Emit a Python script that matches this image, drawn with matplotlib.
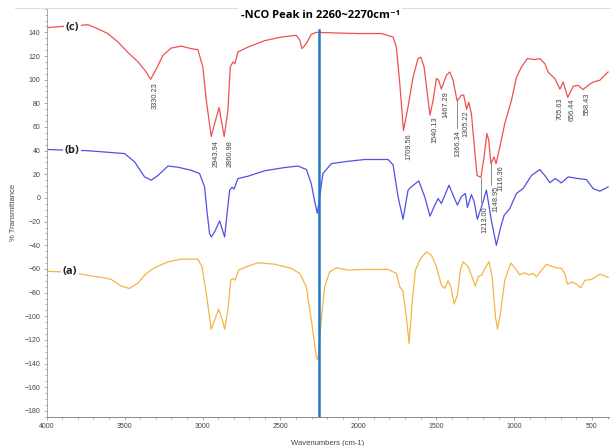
import matplotlib.pyplot as plt
from matplotlib.ticker import MultipleLocator
from matplotlib.lines import Line2D

# spectrum (c) - red
wn_c = [4000, 3900, 3779, 3736, 3672, 3608, 3544, 3479, 3414, 3362, 3333, 3297,
        3254, 3201, 3137, 3073, 3030, 2998, 2976, 2944, 2922, 2894, 2861, 2837,
        2822, 2805, 2792, 2773, 2708, 2601, 2494, 2398, 2377, 2362, 2334, 2302,
        2270, 2150, 2000, 1852, 1777, 1756, 1734, 1710, 1681, 1649, 1617, 1599,
        1578, 1557, 1540, 1520, 1499, 1484, 1467, 1435, 1413, 1392, 1375, 1366,
        1339, 1324, 1305, 1291, 1274, 1253, 1238, 1213, 1193, 1175, 1163, 1149,
        1129, 1116, 1092, 1060, 1017, 985, 953, 915, 867, 835, 803, 782, 761,
        739, 706, 685, 656, 621, 589, 558, 525, 493, 450, 397]
t_c = [144, 145, 145.9, 146.5, 143, 139, 132, 123, 115, 106.5, 100.3, 109,
       120.6, 126.7, 128.4, 126.2, 125.4, 110.7, 82.6, 52, 63, 76.4, 52, 74,
       110.7, 115, 113.5, 123.4, 127.6, 133, 136, 137.5, 133.8, 126.2, 130.5, 138.3,
       140, 139.5, 139, 139, 136, 127.6, 96.7, 57, 77, 102, 117.8, 119,
       110.7, 88, 70, 82.6, 101, 99.5, 92, 103.7, 106.5, 99.5, 88, 82,
       86.8, 87, 75, 81, 71, 40, 19, 17.5, 34.7, 54.5, 49, 29,
       34.7, 29, 43, 62.9, 82.6, 102, 110.7, 117.8, 117, 117.8, 113.6, 106.5, 103.7,
       101, 92, 98, 85, 94.4, 95.2, 91.6, 95.2, 98, 99.5, 106.5]

# spectrum (b) - blue
wn_b = [4000, 3900, 3743, 3672, 3500, 3436, 3372, 3329, 3286, 3222, 3158, 3073,
        3019, 2987, 2970, 2955, 2944, 2920, 2890, 2870, 2858, 2840, 2826, 2810,
        2798, 2773, 2708, 2601, 2473, 2387, 2333, 2302, 2280, 2263, 2248, 2227,
        2173, 2066, 1959, 1809, 1777, 1745, 1713, 1681, 1660, 1612, 1574, 1540,
        1509, 1488, 1467, 1418, 1392, 1364, 1339, 1313, 1300, 1274, 1257, 1236,
        1206, 1178, 1146, 1114, 1086, 1064, 1028, 985, 942, 889, 835, 803, 771,
        735, 697, 653, 589, 536, 493, 450, 397]
t_b = [41, 40.5, 40, 39.3, 37.5, 30.5, 17.8, 15, 19, 27, 26, 23.4,
       20.7, 9.3, -13, -30, -33, -28, -19.4, -28, -33, -10, 6.6, 9,
       7.5, 16.4, 18.4, 23, 25.7, 27, 24, 12, -3, -13, 1, 20.7,
       29, 31, 32.5, 32.5, 28, 1, -18, 6.6, 9.4, 14.4, 1, -15.4,
       -6, -0.5, -4.7, 10.8, 2.4, -6, 1, 3.8, -8, 2.8, -3, -18,
       -6, 6.6, -19, -40, -24.5, -14.6, -9, 3.8, 8, 19, 24, 19, 13,
       16.4, 12.7, 17.8, 16.4, 15.6, 8, 5.7, 9.3]

# spectrum (a) - orange
wn_a = [4000, 3900, 3800, 3715, 3650, 3586, 3522, 3468, 3415, 3361, 3308, 3222,
        3137, 3030, 3004, 2976, 2944, 2922, 2897, 2873, 2858, 2837, 2819, 2805,
        2792, 2768, 2708, 2644, 2537, 2430, 2376, 2334, 2302, 2270, 2259, 2238,
        2216, 2184, 2141, 2066, 1959, 1809, 1756, 1734, 1713, 1692, 1674, 1655,
        1634, 1599, 1563, 1531, 1499, 1467, 1445, 1424, 1407, 1385, 1364, 1345,
        1328, 1296, 1270, 1249, 1231, 1206, 1188, 1161, 1140, 1120, 1107, 1088,
        1060, 1021, 992, 964, 932, 904, 878, 857, 793, 739, 696, 675, 658, 632,
        600, 572, 546, 504, 450, 397]
t_a = [-62, -62.5, -63.8, -66, -67, -68.9, -74.5, -76.5, -72, -63.8, -59, -54,
       -51.7, -51.7, -58, -80.7, -111, -103, -94, -103, -111, -94.6, -69.5, -68,
       -69.5, -61, -57.6, -54.8, -56, -59.6, -63.8, -75, -103, -134, -137, -103,
       -75, -62.5, -59, -61, -60.4, -60.4, -63.8, -75, -79, -100.5, -123, -89,
       -61, -51, -45.6, -48.3, -58, -73.7, -76.5, -70, -75, -89.7, -82, -61,
       -54, -58, -66.7, -74.5, -66.7, -65, -59.6, -54, -68, -100.5, -111, -97.6,
       -69.5, -55, -59.6, -65, -63.3, -65, -63.8, -66.7, -56, -58.7, -59.6, -63.8, -73, -71,
       -72.8, -76, -69.5, -69, -64.4, -67]

# peak labels on (c): text, x position, top of text
peak_text = ['3330.23', '2943.94', '2860.98', '1709.56', '1540.13', '1467.29',
             '1366.34', '1305.22', '1213.00', '1148.95', '1116.36',
             '705.63', '656.44', '558.43']
peak_x = [3305, 2912, 2826, 1676, 1509, 1437, 1362, 1307, 1190, 1116, 1084,
          707, 630, 532]
peak_top = [98, 49, 49, 55, 69, 90, 57, 74, -7, 10, 28, 85, 84, 89]

# leader lines: x, y from, y to
lead_x = [1366, 1213, 1146]
lead_y0 = [82, 17, 29]
lead_y1 = [59, -3, 11]

nco_x = 2255

fig = plt.figure(figsize=(6.11, 4.46), dpi=100)
ax = fig.add_axes([0.0765, 0.0655, 0.9205, 0.915])

ax.plot(wn_c, t_c, color='#f05050', lw=0.9)
ax.plot(wn_b, t_b, color='#5050e6', lw=0.9)
ax.plot(wn_a, t_a, color='#f5b445', lw=0.9)

ax.plot([nco_x, nco_x], [142, -185], color='#1f78c8', lw=1.8, zorder=5)

for txt, x, y in zip(peak_text, peak_x, peak_top):
    ax.text(x, y, txt, rotation=90, ha='center', va='top', fontsize=5.3,
            color='#444444', family='Liberation Sans')
for x, y0, y1 in zip(lead_x, lead_y0, lead_y1):
    ax.plot([x, x], [y0, y1], color='#777777', lw=0.6)

for lab, x, y in [('(c)', 3835, 144), ('(b)', 3840, 40), ('(a)', 3850, -62)]:
    ax.text(x, y, lab, ha='center', va='center', fontsize=8, fontweight='bold',
            color='#222222', family=['Open Sans', 'DejaVu Sans'],
            bbox=dict(facecolor='white', edgecolor='none', pad=1.2))

ax.set_xlim(4000, 390)
ax.set_ylim(-185, 160)
ax.xaxis.set_major_locator(MultipleLocator(500))
ax.xaxis.set_minor_locator(MultipleLocator(100))
ax.yaxis.set_minor_locator(MultipleLocator(5))
ax.set_yticks(range(-180, 141, 20))

for s in ['top', 'right']:
    ax.spines[s].set_visible(False)
ax.spines['left'].set_color('#999999')
ax.spines['left'].set_linewidth(0.6)
ax.spines['left'].set_linestyle((0, (1, 1)))
ax.spines['bottom'].set_color('#888888')
ax.spines['bottom'].set_linewidth(0.7)

ax.tick_params(which='both', colors='#888888', labelcolor='#444444',
               labelsize=5, width=0.5)
ax.tick_params(which='major', length=2.5, pad=2)
ax.tick_params(which='minor', length=1.5)
for t in ax.get_xticklabels() + ax.get_yticklabels():
    t.set_family('Liberation Sans')

ax.set_xlabel('Wavenumbers (cm-1)', fontsize=5.5, color='#444444',
              family='Liberation Sans')
ax.set_ylabel('% Transmittance', fontsize=5.5, color='#444444',
              family='Liberation Sans')
ax.xaxis.set_label_coords(0.5, -0.056)
ax.yaxis.set_label_coords(-0.053, 0.5)

# thin frame line at the top of the picture
fig.add_artist(Line2D([15 / 611, 1], [1 - 8 / 446, 1 - 8 / 446],
                      color='#dddddd', lw=0.7))

fig.text(320 / 611, 1 - 15 / 446, '-NCO Peak in 2260~2270cm\u207b\u00b9',
         ha='center', va='center', fontsize=8, fontweight='bold',
         family=['Open Sans', 'DejaVu Sans'],
         bbox=dict(facecolor='white', edgecolor='none', pad=2))

fig.savefig('out.png', dpi=100)
